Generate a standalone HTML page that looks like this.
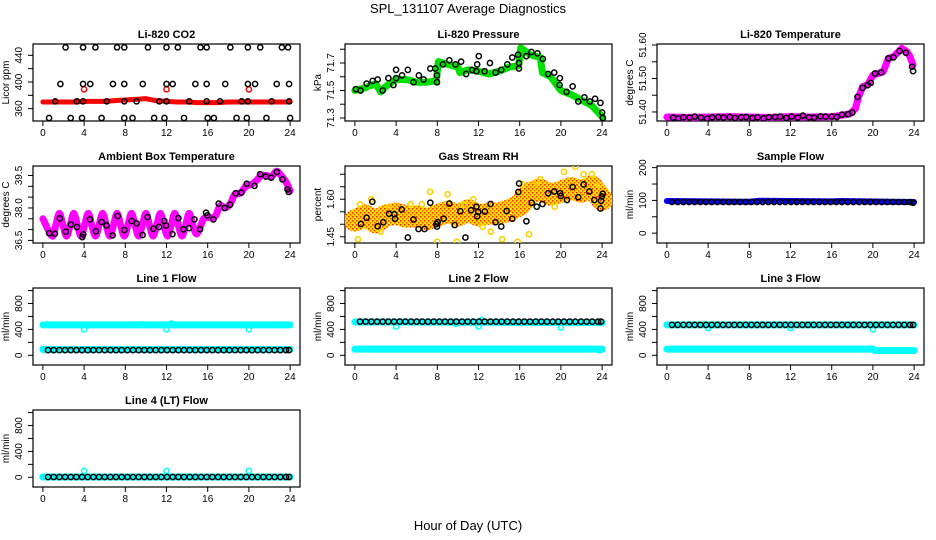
<!DOCTYPE html>
<html><head><meta charset="utf-8"><style>
html,body{margin:0;padding:0;background:#fff;}
svg{display:block;font-family:"Liberation Sans",sans-serif;}
</style></head><body>
<svg id="chart" width="936" height="540" viewBox="0 0 936 540" xmlns="http://www.w3.org/2000/svg">
<defs>
<pattern id="rhpat" width="4" height="4" patternUnits="userSpaceOnUse">
<rect width="4" height="4" fill="#ffe000"/><rect x="0" y="0" width="1.5" height="1.5" fill="#ff2000"/><rect x="2" y="2" width="1.5" height="1.5" fill="#ff5000"/>
</pattern>
</defs>
<text x="468" y="13" text-anchor="middle" font-size="13">SPL_131107  Average Diagnostics</text>
<text x="468" y="530" text-anchor="middle" font-size="13">Hour of Day (UTC)</text>
<g id="plots"></g>
</svg>
<script>
// ---------- data ----------
const co2BandX=[0,1,2,3,4,5,6,7,8,9,10,11,12,13,14,15,16,17,18,19,20,21,22,23,24];
const co2BandY=[370,370,370,370,371,371,371,372,373,374,375,372,371,370,370,369,369,369,370,370,370,370,370,370,370];
const co2RedPtsX=[4,12,20];
const co2RedPtsY=[389,389,389];
const co2BlackX=[2.2,3.9,5.1,7.2,7.9,10.2,12.0,13.1,15.3,15.9,18.2,19.9,21.1,23.2,23.8,
 1.7,3.9,4.6,6.8,7.9,9.7,12.0,12.6,14.8,15.9,17.7,19.9,20.6,22.7,23.9,
 1.2,3.3,3.9,6.2,7.9,9.1,11.3,12.0,14.2,15.9,17.2,19.3,19.9,22.2,23.9,
 0.6,2.7,3.8,5.7,7.9,8.7,10.8,11.8,13.7,16.0,16.6,18.8,19.8,21.7,24.0];
const co2BlackY=[452,452,452,452,452,452,452,452,452,452,452,452,452,452,452,
 397,397,397,397,397,397,397,397,397,397,397,397,397,397,397,
 371,371,371,371,371,371,371,371,371,371,371,371,371,371,371,
 346,346,346,346,346,346,346,346,346,346,346,346,346,346,346];

const presBandX=[0,1,2,2.5,3,4,5,6,7,7.9,8.1,9,10,10.2,11,12,13,14,15,15.9,16.1,17,18,18.2,19,20,21,22,23,24];
const presBandY=[71.50,71.52,71.55,71.49,71.53,71.58,71.58,71.56,71.56,71.57,71.71,71.69,71.67,71.63,71.65,71.64,71.62,71.64,71.67,71.68,71.81,71.76,71.74,71.63,71.60,71.50,71.47,71.43,71.39,71.31];
const presBlackX=[0.10,0.55,1.14,1.72,2.21,2.70,3.25,3.74,4.00,4.00,4.58,5.14,5.69,6.21,6.67,7.32,7.80,7.97,7.97,8.55,9.17,9.76,10.31,10.80,11.38,11.80,12.03,11.87,12.59,13.11,13.66,14.21,14.80,15.28,15.84,15.93,15.93,16.65,17.14,17.72,18.24,18.76,19.35,19.90,19.87,20.55,21.14,21.69,22.28,22.80,23.32,23.84,24.00,24.07];
const presBlackY=[71.51,71.50,71.55,71.57,71.58,71.50,71.59,71.54,71.65,71.59,71.61,71.65,71.56,71.61,71.58,71.66,71.66,71.61,71.56,71.69,71.72,71.69,71.71,71.62,71.65,71.64,71.75,71.69,71.64,71.70,71.63,71.65,71.69,71.74,71.76,71.70,71.66,71.75,71.78,71.77,71.73,71.62,71.63,71.59,71.54,71.49,71.53,71.42,71.45,71.42,71.44,71.41,71.34,71.30];

const tempBandX=[0,2,4,6,8,10,12,14,16,17,17.8,18.3,18.6,19,19.5,20,20.5,21,21.5,22,22.8,23.3,23.6,23.9];
const tempBandY=[51.385,51.384,51.385,51.386,51.385,51.384,51.386,51.385,51.386,51.39,51.395,51.41,51.445,51.475,51.482,51.51,51.515,51.52,51.56,51.565,51.59,51.58,51.565,51.54];
const tempBlackX=[0.6,1.1,1.6,2.2,2.7,3.3,3.9,4.4,5.0,5.5,6.1,6.6,7.2,7.7,8.3,8.8,9.4,9.9,10.5,11.0,11.6,12.1,12.7,13.2,13.8,14.3,14.9,15.4,16.0,16.5,17.0,17.6,18.0,18.5,19.0,19.5,19.8,20.2,20.8,21.5,22.0,22.6,23.2,23.8,23.9];
const tempBlackY=[51.383,51.380,51.384,51.383,51.386,51.383,51.380,51.384,51.385,51.383,51.385,51.382,51.384,51.385,51.382,51.384,51.381,51.384,51.385,51.386,51.382,51.386,51.383,51.389,51.384,51.383,51.387,51.386,51.386,51.385,51.392,51.393,51.398,51.445,51.472,51.480,51.487,51.515,51.518,51.560,51.563,51.582,51.577,51.535,51.522];

const ambBandX=[0,0.9,1.25,1.6,1.95,2.3,2.65,3.0,3.35,3.7,4.05,4.4,4.75,5.1,5.45,5.8,6.15,6.5,6.85,7.2,7.55,7.9,8.25,8.6,8.95,9.3,9.65,10.0,10.35,10.7,11.05,11.4,11.75,12.1,12.45,12.8,13.15,13.5,13.85,14.2,14.55,14.9,15.25,15.6,16.0,16.7,17.2,17.7,18.2,18.6,19.2,19.7,20.3,20.8,21.2,21.7,22.2,22.7,23.2,23.6,24.0];
const ambBandY=[37.5,36.7,37.2,37.75,37.2,36.7,37.2,37.75,37.2,36.7,37.2,37.75,37.2,36.7,37.2,37.75,37.2,36.7,37.2,37.75,37.2,36.7,37.2,37.75,37.2,36.7,37.2,37.75,37.2,36.7,37.2,37.75,37.2,36.7,37.2,37.75,37.2,36.7,37.2,37.75,37.2,36.8,37.1,37.5,37.55,37.6,38.1,38.0,38.2,38.6,38.7,39.0,39.1,39.3,39.5,39.5,39.45,39.7,39.45,39.2,38.8];
const ambBlackX=[0.61,1.17,1.65,2.23,2.72,3.30,3.82,3.92,4.57,5.15,5.70,6.19,6.77,7.25,7.90,8.62,9.10,9.68,10.17,10.72,11.27,11.79,11.95,12.57,13.15,13.64,14.19,14.71,15.26,15.84,15.97,16.55,17.07,17.65,18.17,18.72,19.27,19.79,20.54,21.09,21.64,22.16,22.71,23.26,23.74,23.87];
const ambBlackY=[36.83,36.81,37.52,36.90,37.23,37.12,36.65,36.78,37.47,36.92,37.35,37.19,36.73,37.63,36.98,37.40,37.29,36.75,37.58,37.04,37.12,37.40,37.19,36.79,37.53,37.01,37.07,37.47,37.01,37.78,37.66,37.47,38.20,38.00,38.15,38.68,38.71,39.12,39.02,39.56,39.45,39.40,39.66,39.32,38.86,38.74];

const rhBandX=[0,1,2,3,4,5,6,7,8,9,10,11,12,13,14,15,16,17,18,19,20,21,22,23,24];
const rhBandY=[1.515,1.535,1.508,1.535,1.543,1.530,1.532,1.520,1.535,1.550,1.535,1.556,1.535,1.543,1.543,1.556,1.577,1.625,1.638,1.618,1.630,1.645,1.630,1.651,1.598];
const rhOrangeX=[0.5,1.6,3.3,5.4,7.3,8.0,9.0,9.9,11.5,13.2,14.3,15.8,16.9,17.6,18.0,19.4,20.3,21.4,22.2,23.0,23.7,0.3,2.5,6.5,10.6,12.4,16.3];
const rhOrangeY=[1.58,1.60,1.57,1.58,1.63,1.43,1.62,1.43,1.60,1.47,1.44,1.43,1.46,1.67,1.68,1.57,1.71,1.73,1.70,1.70,1.66,1.44,1.47,1.58,1.58,1.49,1.66];
const rhBlackX=[0.59,1.14,1.69,2.21,2.76,3.32,3.84,3.90,4.55,5.14,5.69,6.18,6.76,7.32,7.90,7.97,8.03,8.62,9.17,9.69,10.24,10.73,11.28,11.80,11.87,11.97,12.62,13.17,13.66,14.21,14.73,15.28,15.87,15.94,16.65,17.17,17.66,18.21,18.76,19.35,19.93,19.99,20.59,21.14,21.69,22.21,22.76,23.25,23.84,23.97,24.06,23.90];
const rhBlackY=[1.501,1.526,1.590,1.492,1.508,1.542,1.540,1.522,1.559,1.447,1.519,1.481,1.481,1.586,1.501,1.491,1.508,1.522,1.583,1.497,1.552,1.447,1.556,1.570,1.532,1.549,1.551,1.581,1.508,1.491,1.553,1.522,1.629,1.663,1.512,1.586,1.570,1.581,1.624,1.631,1.624,1.613,1.597,1.649,1.608,1.659,1.631,1.597,1.563,1.611,1.622,1.594];

const flowHrs=[0.5,1.05,1.6,2.15,2.7,3.25,3.8,4.35,4.9,5.45,6.0,6.55,7.1,7.65,8.2,8.75,9.3,9.85,10.4,10.95,11.5,12.05,12.6,13.15,13.7,14.25,14.8,15.35,15.9,16.45,17.0,17.55,18.1,18.65,19.2,19.75,20.3,20.85,21.4,21.95,22.5,23.05,23.6,23.9];
const sampleBlackY=[95,95,95,95,95,95,95,95,95,95,95,95,95,95,95,95,95,95,95,95,95,95,95,95,95,95,95,95,95,95,95,95,95,95,95,95,95,95,95,95,95,95,95,93];
const sampleBandX=[0,8,9,16,17,24];
const sampleBandY=[98,96,99,97,98,95];
const line1BlackY=[80,80,80,80,80,80,80,80,80,80,80,80,80,80,80,80,80,80,80,80,80,80,80,80,80,80,80,80,80,80,80,80,80,80,80,80,80,80,80,80,80,80,80,80];
const line1HiX=[0,24];const line1HiY=[470,470];
const line1LoX=[0,24];const line1LoY=[90,90];
const line1CyanX=[4,12,20,9.5,12.5];const line1CyanY=[400,400,400,480,490];
const line2BlackY=[520,520,520,520,520,520,520,520,520,520,520,520,520,520,520,520,520,520,520,520,520,520,520,520,520,520,520,520,520,520,520,520,520,520,520,520,520,520,520,520,520,520,520,520];
const line2HiX=[0,24];const line2HiY=[515,505];
const line2LoX=[0,24];const line2LoY=[95,95];
const line2CyanX=[4,12,20,9.8,12.3,23.8];const line2CyanY=[445,445,430,485,545,75];
const line3BlackY=[470,470,470,470,470,470,470,470,470,470,470,470,470,470,470,470,470,470,470,470,470,470,470,470,470,470,470,470,470,470,470,470,470,470,470,470,470,470,470,470,470,470,470,470];
const line3HiX=[0,24];const line3HiY=[470,470];
const line3LoX=[0,20,20.2,24];const line3LoY=[95,95,75,75];
const line3CyanX=[4,12,20];const line3CyanY=[420,420,400];
const line4BlackY=[5,5,5,5,5,5,5,5,5,5,5,5,5,5,5,5,5,5,5,5,5,5,5,5,5,5,5,5,5,5,5,5,5,5,5,5,5,5,5,5,5,5,5,5];
const line4BandX=[0,24];const line4BandY=[5,5];
const line4CyanX=[4,12,20];const line4CyanY=[100,100,100];
const xTicks=[0,4,8,12,16,20,24];

// ---------- drawing ----------
const NS='http://www.w3.org/2000/svg';
const root=document.getElementById('plots');
function mk(parent,tag,attrs,name,text){
  const el=document.createElementNS(NS,tag);
  for(const k in attrs) el.setAttribute(k,attrs[k]);
  
  
  if(text!==undefined) el.textContent=text;
  parent.appendChild(el);
  return el;
}
function panel(col,row,title,ylab,ylim,yticks,ylabels,slug){
  const L=33+312*col, T=44+122*row, W=267, H=77;
  const g=mk(root,'g',{},slug+'-panel');
  const sx=h=>L+(h+0.96)/25.92*W;
  const sy=v=>T+H-(v-ylim[0])/(ylim[1]-ylim[0])*H;
  mk(g,'text',{x:L+W/2,y:T-6,'text-anchor':'middle','font-size':11,'font-weight':'bold'},slug+'-title',title);
  mk(g,'rect',{x:L,y:T,width:W,height:H,fill:'none',stroke:'#000','stroke-width':1.2},slug+'-plot-box');
  const xa=mk(g,'g',{},slug+'-x-axis');
  mk(xa,'line',{x1:sx(0),x2:sx(24),y1:T+H,y2:T+H,stroke:'#000'},slug+'-x-axis-line');
  xTicks.forEach(t=>{
    mk(xa,'line',{x1:sx(t),x2:sx(t),y1:T+H,y2:T+H+5,stroke:'#000'},slug+'-x-tick');
    mk(xa,'text',{x:sx(t),y:T+H+15,'text-anchor':'middle','font-size':10},slug+'-x-tick-label',String(t));
  });
  const ya=mk(g,'g',{},slug+'-y-axis');
  mk(ya,'line',{x1:L,x2:L,y1:sy(yticks[0]),y2:sy(yticks[yticks.length-1]),stroke:'#000'},slug+'-y-axis-line');
  yticks.forEach(t=>mk(ya,'line',{x1:L-5,x2:L,y1:sy(t),y2:sy(t),stroke:'#000'},slug+'-y-tick'));
  ylabels.forEach(t=>{
    const x=L-11,y=sy(t);
    mk(ya,'text',{x:x,y:y,'text-anchor':'middle','font-size':10,transform:`rotate(-90 ${x} ${y})`},slug+'-y-tick-label',String(t));
  });
  const yx=col*312+9, yy=T+H/2;
  mk(g,'text',{x:yx,y:yy,'text-anchor':'middle','font-size':10,transform:`rotate(-90 ${yx} ${yy})`},slug+'-y-axis-title',ylab);
  const clip='clip-'+slug;
  const cp=mk(g,'clipPath',{id:clip},slug+'-clip');
  mk(cp,'rect',{x:L,y:T,width:W,height:H},slug+'-clip-rect');
  const d=mk(g,'g',{'clip-path':`url(#${clip})`},slug+'-data');
  return {sx,sy,d,slug};
}
function band(p,xs,ys,color,w,name,smooth){
  const pts=xs.map((x,i)=>[p.sx(x),p.sy(ys[i])]);
  let dd='M'+pts[0][0]+','+pts[0][1];
  if(smooth){
    for(let i=0;i<pts.length-1;i++){
      const p0=pts[Math.max(0,i-1)],p1=pts[i],p2=pts[i+1],p3=pts[Math.min(pts.length-1,i+2)];
      dd+=` C${p1[0]+(p2[0]-p0[0])/6},${p1[1]+(p2[1]-p0[1])/6} ${p2[0]-(p3[0]-p1[0])/6},${p2[1]-(p3[1]-p1[1])/6} ${p2[0]},${p2[1]}`;
    }
  } else pts.slice(1).forEach(q=>dd+=' L'+q[0]+','+q[1]);
  mk(p.d,'path',{d:dd,fill:'none',stroke:color,'stroke-width':w,'stroke-linecap':'round','stroke-linejoin':'round'},p.slug+'-'+name);
}
function pts(p,xs,ys,color,name,r,sw){
  xs.forEach((x,i)=>{
    mk(p.d,'circle',{cx:p.sx(x),cy:p.sy(ys[i]),r:r||2.6,fill:'none',stroke:color,'stroke-width':sw||1.5},p.slug+'-'+name);
  });
}
const flowTicks=[0,200,400,600,800,1000], flowLabels=[0,400,800], flowLim=[-150,1040];

let p=panel(0,0,'Li-820 CO2','Licor ppm',[341.5,457],[360,380,400,420,440],[360,400,440],'co2');
band(p,co2BandX,co2BandY,'#ff0000',5,'red-band');
pts(p,co2RedPtsX,co2RedPtsY,'#ff0000','red-point');
pts(p,co2BlackX,co2BlackY,'#000','black-point');

p=panel(1,0,'Li-820 Pressure','kPa',[71.278,71.838],[71.3,71.4,71.5,71.6,71.7,71.8],['71.3','71.5','71.7'],'pressure');
band(p,presBandX,presBandY,'#00e000',7,'green-band');
pts(p,presBlackX,presBlackY,'#000','black-point');

p=panel(2,0,'Li-820 Temperature','degrees C',[51.373,51.603],[51.40,51.45,51.50,51.55,51.60],['51.40','51.50','51.60'],'li820-temp');
band(p,tempBandX,tempBandY,'#ff00ff',7,'magenta-band');
pts(p,tempBlackX,tempBlackY,'#000','black-point');

p=panel(0,1,'Ambient Box Temperature','degrees C',[36.38,39.94],[36.5,37.0,37.5,38.0,38.5,39.0,39.5],['36.5','38.0','39.5'],'ambient-temp');
band(p,ambBandX,ambBandY,'#ff00ff',7,'magenta-band',true);
pts(p,ambBlackX,ambBlackY,'#000','black-point');

p=panel(1,1,'Gas Stream RH','percent',[1.425,1.733],[1.45,1.50,1.55,1.60,1.65,1.70],['1.45','1.60'],'gas-rh');
band(p,rhBandX,rhBandY,'url(#rhpat)',22,'orange-band');
pts(p,rhOrangeX,rhOrangeY,'#ffd000','orange-point',2.6,1.6);
pts(p,rhBlackX,rhBlackY,'#000','black-point');

p=panel(2,1,'Sample Flow','ml/min',[-30,205],[0,50,100,150,200],[0,100,200],'sample-flow');
band(p,sampleBandX,sampleBandY,'#0000ff',6,'blue-band');
pts(p,flowHrs,sampleBlackY,'#000','black-point');

p=panel(0,2,'Line 1 Flow','ml/min',flowLim,flowTicks,flowLabels,'line1-flow');
band(p,line1HiX,line1HiY,'#00ffff',7,'cyan-band-high');
band(p,line1LoX,line1LoY,'#00ffff',7,'cyan-band-low');
pts(p,line1CyanX,line1CyanY,'#00ffff','cyan-point');
pts(p,flowHrs,line1BlackY,'#000','black-point');

p=panel(1,2,'Line 2 Flow','ml/min',flowLim,flowTicks,flowLabels,'line2-flow');
band(p,line2HiX,line2HiY,'#00ffff',7,'cyan-band-high');
band(p,line2LoX,line2LoY,'#00ffff',7,'cyan-band-low');
pts(p,line2CyanX,line2CyanY,'#00ffff','cyan-point');
pts(p,flowHrs,line2BlackY,'#000','black-point');

p=panel(2,2,'Line 3 Flow','ml/min',flowLim,flowTicks,flowLabels,'line3-flow');
band(p,line3HiX,line3HiY,'#00ffff',7,'cyan-band-high');
band(p,line3LoX,line3LoY,'#00ffff',7,'cyan-band-low');
pts(p,line3CyanX,line3CyanY,'#00ffff','cyan-point');
pts(p,flowHrs,line3BlackY,'#000','black-point');

p=panel(0,3,'Line 4 (LT) Flow','ml/min',flowLim,flowTicks,flowLabels,'line4-flow');
band(p,line4BandX,line4BandY,'#00ffff',7,'cyan-band');
pts(p,line4CyanX,line4CyanY,'#00ffff','cyan-point');
pts(p,flowHrs,line4BlackY,'#000','black-point');
</script>
</body></html>
